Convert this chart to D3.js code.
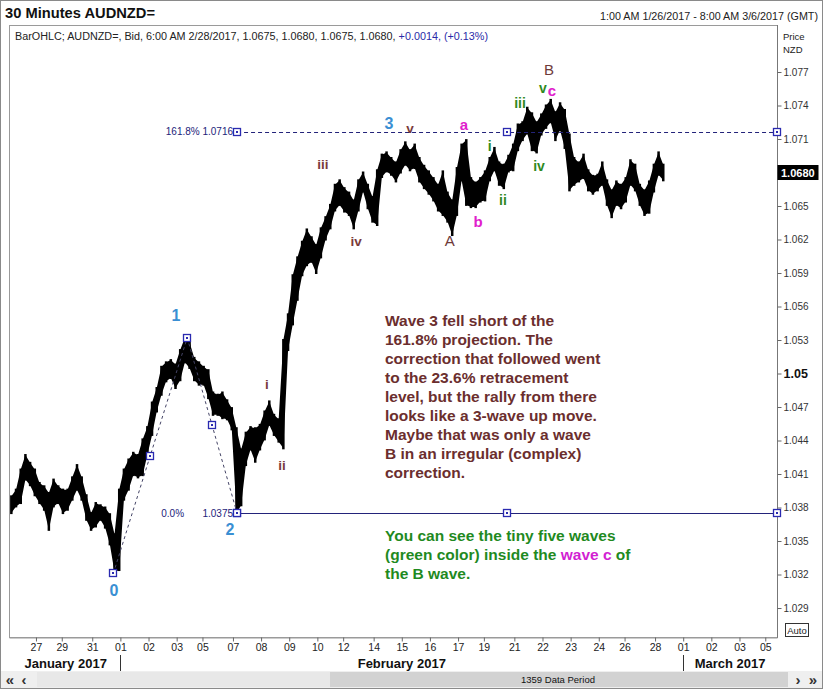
<!DOCTYPE html>
<html><head><meta charset="utf-8">
<script src="https://cdn.jsdelivr.net/npm/d3@7"></script>
<style>
body{margin:0;background:#fff;}
svg{display:block;font-family:"Liberation Sans",Arial,sans-serif;}
</style>
</head><body>
<svg id="c" width="823" height="689"></svg>
<script>
// ---------------- DATA ----------------
const startTime = Date.UTC(2017,0,26,1);   // 1:00 AM 1/26/2017
const endTime   = Date.UTC(2017,2,6,8);    // 8:00 AM 3/6/2017
const barHours = 4;                        // each bar below aggregates 4 trading hours

const priceHigh = [1.0390,1.0396,1.0414,1.0427,1.0420,1.0414,1.0402,1.0399,1.0393,1.0405,
1.0399,1.0396,1.0396,1.0407,1.0418,1.0407,1.0391,1.0375,1.0384,1.0382,
1.0380,1.0374,1.0356,1.0396,1.0414,1.0423,1.0429,1.0427,1.0441,1.0452,
1.0474,1.0487,1.0506,1.0510,1.0512,1.0508,1.0521,1.0532,1.0528,1.0514,
1.0510,1.0506,1.0503,1.0483,1.0481,1.0483,1.0476,1.0469,1.0451,1.0432,
1.0447,1.0452,1.0451,1.0454,1.0466,1.0475,1.0463,1.0459,1.0530,1.0553,
1.0588,1.0604,1.0618,1.0629,1.0622,1.0615,1.0630,1.0640,1.0651,1.0669,
1.0673,1.0666,1.0662,1.0655,1.0673,1.0680,1.0669,1.0658,1.0682,1.0696,
1.0698,1.0693,1.0689,1.0700,1.0707,1.0700,1.0705,1.0693,1.0686,1.0681,
1.0675,1.0669,1.0681,1.0662,1.0655,1.0684,1.0705,1.0709,1.0675,1.0671,
1.0675,1.0681,1.0693,1.0702,1.0689,1.0687,1.0695,1.0705,1.0723,1.0725,
1.0738,1.0733,1.0725,1.0732,1.0740,1.0745,1.0734,1.0742,1.0736,1.0714,
1.0693,1.0689,1.0696,1.0682,1.0677,1.0678,1.0689,1.0673,1.0664,1.0672,
1.0669,1.0675,1.0691,1.0687,1.0669,1.0664,1.0672,1.0687,1.0698,1.0687];

const priceLow = [1.0375,1.0381,1.0384,1.0405,1.0400,1.0391,1.0384,1.0378,1.0360,1.0381,
1.0384,1.0375,1.0378,1.0387,1.0396,1.0387,1.0369,1.0360,1.0363,1.0369,
1.0362,1.0347,1.0322,1.0324,1.0387,1.0396,1.0409,1.0407,1.0409,1.0427,
1.0445,1.0466,1.0481,1.0493,1.0496,1.0487,1.0494,1.0510,1.0505,1.0494,
1.0490,1.0490,1.0478,1.0463,1.0463,1.0460,1.0459,1.0450,1.0375,1.0382,
1.0418,1.0432,1.0421,1.0432,1.0441,1.0454,1.0445,1.0439,1.0433,1.0521,
1.0544,1.0566,1.0588,1.0597,1.0600,1.0590,1.0604,1.0620,1.0630,1.0646,
1.0651,1.0645,1.0642,1.0630,1.0646,1.0663,1.0648,1.0636,1.0633,1.0676,
1.0681,1.0678,1.0672,1.0680,1.0687,1.0682,1.0684,1.0672,1.0666,1.0661,
1.0655,1.0646,1.0642,1.0636,1.0624,1.0642,1.0673,1.0651,1.0649,1.0649,
1.0654,1.0655,1.0673,1.0682,1.0669,1.0666,1.0681,1.0682,1.0700,1.0709,
1.0715,1.0700,1.0698,1.0714,1.0720,1.0725,1.0709,1.0718,1.0702,1.0664,
1.0669,1.0672,1.0675,1.0664,1.0661,1.0664,1.0669,1.0651,1.0640,1.0651,
1.0648,1.0654,1.0669,1.0664,1.0651,1.0642,1.0644,1.0663,1.0678,1.0673];

const lastPrice = 1.0680;

const yTicks = [1.029,1.032,1.035,1.038,1.041,1.044,1.047,1.050,1.053,1.056,1.059,1.062,1.065,1.068,1.071,1.074,1.077];

const xTickDates = ["2017-01-27","2017-01-29","2017-01-31","2017-02-01","2017-02-02","2017-02-03","2017-02-05",
"2017-02-07","2017-02-08","2017-02-09","2017-02-10","2017-02-12","2017-02-14","2017-02-15","2017-02-16","2017-02-17",
"2017-02-19","2017-02-21","2017-02-22","2017-02-23","2017-02-24","2017-02-26","2017-02-28","2017-03-01","2017-03-02",
"2017-03-03","2017-03-05"];

const monthNames = ["January 2017","February 2017","March 2017"];
const monthStarts = ["2017-02-01","2017-03-01"];

// Fibonacci anchor points (wave 0, 1, 2)
const fibDates  = ["2017-01-31T18:00:00Z","2017-02-03T09:00:00Z","2017-02-07T03:30:00Z"];
const fibPrices = [1.0321, 1.0532, 1.0375];
const projRatio = 1.618;

// wave labels: text, trading hour from start, price, kind
const labelText  = ["0","1","2","3", "i","ii","iii","iv","v", "A","B", "a","b","c", "i","ii","iii","iv","v"];
const labelHour  = [89.6,142.4,188.5,324, 220,232.8,267.8,296,342, 376,460.6, 388,400,463, 410,421.3,435.8,452,455.4];
const labelPrice = [1.0306,1.0552,1.0360,1.0724, 1.0490,1.0418,1.0687,1.0618,1.0719, 1.0619,1.0772, 1.0723,1.0636,1.0753, 1.0704,1.0655,1.0742,1.0686,1.0756];
const labelKind  = ["num","num","num","num", "rom","rom","rom","rom","rom", "cap","cap", "abc","abc","abc", "grn","grn","grn","grn","grn"];

const noteLines = ["Wave 3 fell short of the","161.8% projection.  The","correction that followed went",
"to the 23.6% retracement","level, but the rally from there","looks like a 3-wave up move.",
"Maybe that was only a wave","B in an irregular (complex)","correction."];

// ---------------- HELPERS ----------------
const HOUR = 3600000;
function isOpen(ms){
  const d = new Date(ms), wd = d.getUTCDay(), h = d.getUTCHours();
  if (wd === 6) return false;
  if (wd === 5 && h >= 22) return false;
  if (wd === 0 && h < 22) return false;
  return true;
}
function tradingHours(ms){
  let n = 0, t = startTime;
  while (t + HOUR <= ms){ if (isOpen(t)) n++; t += HOUR; }
  if (t < ms && isOpen(t)) n += (ms - t)/HOUR;
  return n;
}
function dayOpenHour(dateStr){
  let t = Date.parse(dateStr + "T00:00:00Z");
  while (!isOpen(t)) t += HOUR;
  return tradingHours(t);
}
const totalHours = tradingHours(endTime);

// ---------------- SCALES ----------------
const L = 9, R = 777, T = 25, B = 637;
const x = d3.scaleLinear().domain([0, totalHours]).range([L, R]);
const pxPerUnit = 11167;
const y = d3.scaleLinear().domain([1.077 - (B-72)/pxPerUnit, 1.077 + (72-T)/pxPerUnit]).range([B, T]);

const svg = d3.select("#c");

// outer frame
svg.append("rect").attr("x",0.5).attr("y",0.5).attr("width",822).attr("height",688)
  .attr("fill","#fff").attr("stroke","#8a8a8a");

// header
svg.append("text").attr("x",5).attr("y",18).attr("font-size",15).attr("font-weight","bold")
  .attr("textLength",150).attr("lengthAdjust","spacingAndGlyphs").attr("fill","#111")
  .text("30 Minutes AUDNZD=");
svg.append("text").attr("x",818).attr("y",20).attr("font-size",10.5).attr("text-anchor","end")
  .attr("textLength",218).attr("lengthAdjust","spacingAndGlyphs").attr("fill","#222")
  .text("1:00 AM 1/26/2017 - 8:00 AM 3/6/2017 (GMT)");

// plot frame
svg.append("rect").attr("x",L+0.5).attr("y",T+0.5).attr("width",R-L).attr("height",B-T)
  .attr("fill","#fff").attr("stroke","#9a9a9a");

const info = svg.append("text").attr("x",15).attr("y",40).attr("font-size",10)
  .attr("textLength",473).attr("lengthAdjust","spacingAndGlyphs").attr("fill","#222");
info.append("tspan").text("BarOHLC; AUDNZD=, Bid, 6:00 AM 2/28/2017, 1.0675, 1.0680, 1.0675, 1.0680, ");
info.append("tspan").attr("fill","#2a2aa8").text("+0.0014, (+0.13%)");

svg.append("text").attr("x",783).attr("y",40).attr("font-size",9.5).attr("fill","#222").text("Price");
svg.append("text").attr("x",783).attr("y",53).attr("font-size",9.5).attr("fill","#222").text("NZD");

// right axis (the label at the last price is covered by the price box, so it is left out)
const isNear = (a,b) => Math.abs(a-b) < 1e-9;
const yAxis = d3.axisRight(y).tickValues(yTicks).tickSize(4).tickPadding(2).tickSizeOuter(0)
  .tickFormat(d => isNear(d,1.05) ? "1.05" : (isNear(d,lastPrice) ? "" : d3.format(".3f")(d)));
const ya = svg.append("g").attr("transform",`translate(${R+0.5},0)`).call(yAxis);
ya.select(".domain").attr("stroke","#777").attr("d",`M0,${T}V${B+1}`);
ya.selectAll(".tick line").attr("stroke","#666");
ya.selectAll(".tick text").attr("font-size",10).attr("fill","#333")
  .attr("font-family","'Liberation Sans',Arial,sans-serif");
ya.selectAll(".tick text").filter(d => isNear(d,1.05))
  .attr("font-size",12.5).attr("font-weight","bold").attr("fill","#111");

// bottom axis
const tickHours = xTickDates.map(dayOpenHour);
const xAxis = d3.axisBottom(x).tickValues(tickHours).tickSize(4).tickPadding(2).tickSizeOuter(0)
  .tickFormat((d,i) => xTickDates[i].slice(8,10));
const xa = svg.append("g").attr("transform",`translate(0,${B+0.5})`).call(xAxis);
xa.select(".domain").attr("stroke","#9a9a9a");
xa.selectAll(".tick line").attr("stroke","#666");
xa.selectAll(".tick text").attr("font-size",10.5).attr("fill","#222")
  .attr("font-family","'Liberation Sans',Arial,sans-serif");

// month labels
const monthEdges = [0, ...monthStarts.map(dayOpenHour), totalHours];
monthNames.forEach((m,i) => {
  svg.append("text").attr("x",(x(monthEdges[i])+x(monthEdges[i+1]))/2 + (i===0?1:0)).attr("y",668)
    .attr("text-anchor","middle").attr("font-size",13).attr("font-weight","bold").attr("fill","#111").text(m);
});
monthStarts.forEach(s => {
  const xx = Math.round(x(dayOpenHour(s))) + 0.5;
  svg.append("line").attr("x1",xx).attr("x2",xx).attr("y1",655).attr("y2",672).attr("stroke","#333");
});

// scrollbar
svg.append("rect").attr("x",1).attr("y",671).attr("width",821).attr("height",17).attr("fill","#efefef");
svg.append("rect").attr("x",37).attr("y",672).attr("width",293).attr("height",15).attr("fill","#e8e8e8");
svg.append("rect").attr("x",330).attr("y",672).attr("width",458).attr("height",15).attr("fill","#d2d2d2");
svg.append("text").attr("x",558).attr("y",683).attr("text-anchor","middle").attr("font-size",9.5).attr("fill","#111").text("1359 Data Period");
[["«",10],["‹",24],["›",798],["»",813]].forEach(([t,xx]) =>
  svg.append("text").attr("x",xx).attr("y",685).attr("text-anchor","middle").attr("font-size",15).attr("font-weight","bold").attr("fill","#333").text(t));

// Auto box
svg.append("rect").attr("x",785.5).attr("y",623.5).attr("width",23).attr("height",13).attr("fill","#fff").attr("stroke","#333");
svg.append("text").attr("x",797).attr("y",634).attr("text-anchor","middle").attr("font-size",9.5).attr("fill","#222").text("Auto");

// ---------------- PRICE ----------------
const bars = priceHigh.map((h,k) => ({t: k*barHours + barHours/2, h, l: priceLow[k]}));
const plot = svg.append("g");
plot.append("path").datum(bars)
  .attr("d", d3.area().x(d => x(d.t)).y0(d => y(d.l)).y1(d => y(d.h)))
  .attr("fill","#000");
plot.selectAll("line.bar").data(bars).join("line").attr("class","bar")
  .attr("x1",d => x(d.t)).attr("x2",d => x(d.t))
  .attr("y1",d => y(d.h)-1).attr("y2",d => y(d.l)+1)
  .attr("stroke","#000").attr("stroke-width",2.5);

// ---------------- FIBONACCI ----------------
const navy = "#23237a";
const fp = fibDates.map((d,i) => ({t: tradingHours(Date.parse(d)), p: fibPrices[i]}));
const projLevel = fibPrices[2] + projRatio*(fibPrices[1]-fibPrices[0]);
const x2 = x(fp[2].t);

const fibG = svg.append("g");
fibG.append("line").attr("x1",x(fp[0].t)).attr("y1",y(fp[0].p)).attr("x2",x(fp[1].t)).attr("y2",y(fp[1].p))
  .attr("stroke","#444466").attr("stroke-dasharray","3,3");
fibG.append("line").attr("x1",x(fp[1].t)).attr("y1",y(fp[1].p)).attr("x2",x(fp[2].t)).attr("y2",y(fp[2].p))
  .attr("stroke","#444466").attr("stroke-dasharray","3,3");
fibG.append("line").attr("x1",x2).attr("x2",R).attr("y1",Math.round(y(projLevel))+0.5).attr("y2",Math.round(y(projLevel))+0.5)
  .attr("stroke",navy).attr("stroke-dasharray","4,3");
fibG.append("line").attr("x1",x2).attr("x2",R).attr("y1",Math.round(y(fibPrices[2]))+0.5).attr("y2",Math.round(y(fibPrices[2]))+0.5)
  .attr("stroke",navy).attr("stroke-width",1.2);

function marker(cx, cy){
  fibG.append("rect").attr("x",Math.round(cx)-3.5).attr("y",Math.round(cy)-3.5).attr("width",7).attr("height",7)
    .attr("fill","#fff").attr("stroke","#2a2ab0").attr("stroke-width",1.3);
  fibG.append("rect").attr("x",Math.round(cx)-1).attr("y",Math.round(cy)-1).attr("width",2).attr("height",2).attr("fill","#2a2ab0");
}
fp.forEach(d => marker(x(d.t), y(d.p)));
marker((x(fp[0].t)+x(fp[1].t))/2, (y(fp[0].p)+y(fp[1].p))/2);
marker((x(fp[1].t)+x(fp[2].t))/2, (y(fp[1].p)+y(fp[2].p))/2);
[projLevel, fibPrices[2]].forEach(lv => {
  marker(x2, y(lv)); marker((x2+R)/2, y(lv)); marker(R, y(lv));
});
fibG.append("text").attr("x",x2-4).attr("y",y(projLevel)+3.5).attr("text-anchor","end")
  .attr("font-size",10).attr("fill",navy).text(`${(projRatio*100).toFixed(1)}% ${projLevel.toFixed(4)}`);
fibG.append("text").attr("x",x2-53).attr("y",y(fibPrices[2])+3.5).attr("text-anchor","end")
  .attr("font-size",10).attr("fill",navy).text("0.0%");
fibG.append("text").attr("x",x2-4).attr("y",y(fibPrices[2])+3.5).attr("text-anchor","end")
  .attr("font-size",10).attr("fill",navy).text(fibPrices[2].toFixed(4));

// ---------------- WAVE LABELS ----------------
const kindStyle = {
  num: {fill:"#3a8fd3", size:16, weight:"bold"},
  rom: {fill:"#7a3b3b", size:13.5, weight:"bold"},
  cap: {fill:"#6e3a3a", size:15, weight:"normal"},
  abc: {fill:"#e020cc", size:15, weight:"bold"},
  grn: {fill:"#2f8a1e", size:14, weight:"bold"}
};
labelText.forEach((t,i) => {
  const s = kindStyle[labelKind[i]];
  svg.append("text").attr("x",x(labelHour[i])).attr("y",y(labelPrice[i]))
    .attr("text-anchor","middle").attr("dominant-baseline","central")
    .attr("font-size",s.size).attr("font-weight",s.weight).attr("fill",s.fill).text(t);
});

// ---------------- NOTES ----------------
const notes = svg.append("g").attr("font-size",15.5).attr("font-weight","bold");
noteLines.forEach((ln,i) => {
  notes.append("text").attr("x",385).attr("y",326 + i*19).attr("fill","#6b2e2e").text(ln);
});
notes.append("text").attr("x",385).attr("y",541).attr("fill","#1f8a1f").text("You can see the tiny five waves");
const g2 = notes.append("text").attr("x",385).attr("y",560).attr("fill","#1f8a1f");
g2.append("tspan").text("(green color) inside the ");
g2.append("tspan").attr("fill","#d21fd2").text("wave c");
g2.append("tspan").text(" of");
notes.append("text").attr("x",385).attr("y",579).attr("fill","#1f8a1f").text("the B wave.");

// ---------------- LAST PRICE BOX ----------------
svg.append("rect").attr("x",R+0.5).attr("y",y(lastPrice)-7.5).attr("width",41).attr("height",15).attr("fill","#000");
svg.append("text").attr("x",R+4).attr("y",y(lastPrice)+4).attr("font-size",11).attr("font-weight","bold")
  .attr("fill","#fff").text(lastPrice.toFixed(4));
</script>
</body></html>
